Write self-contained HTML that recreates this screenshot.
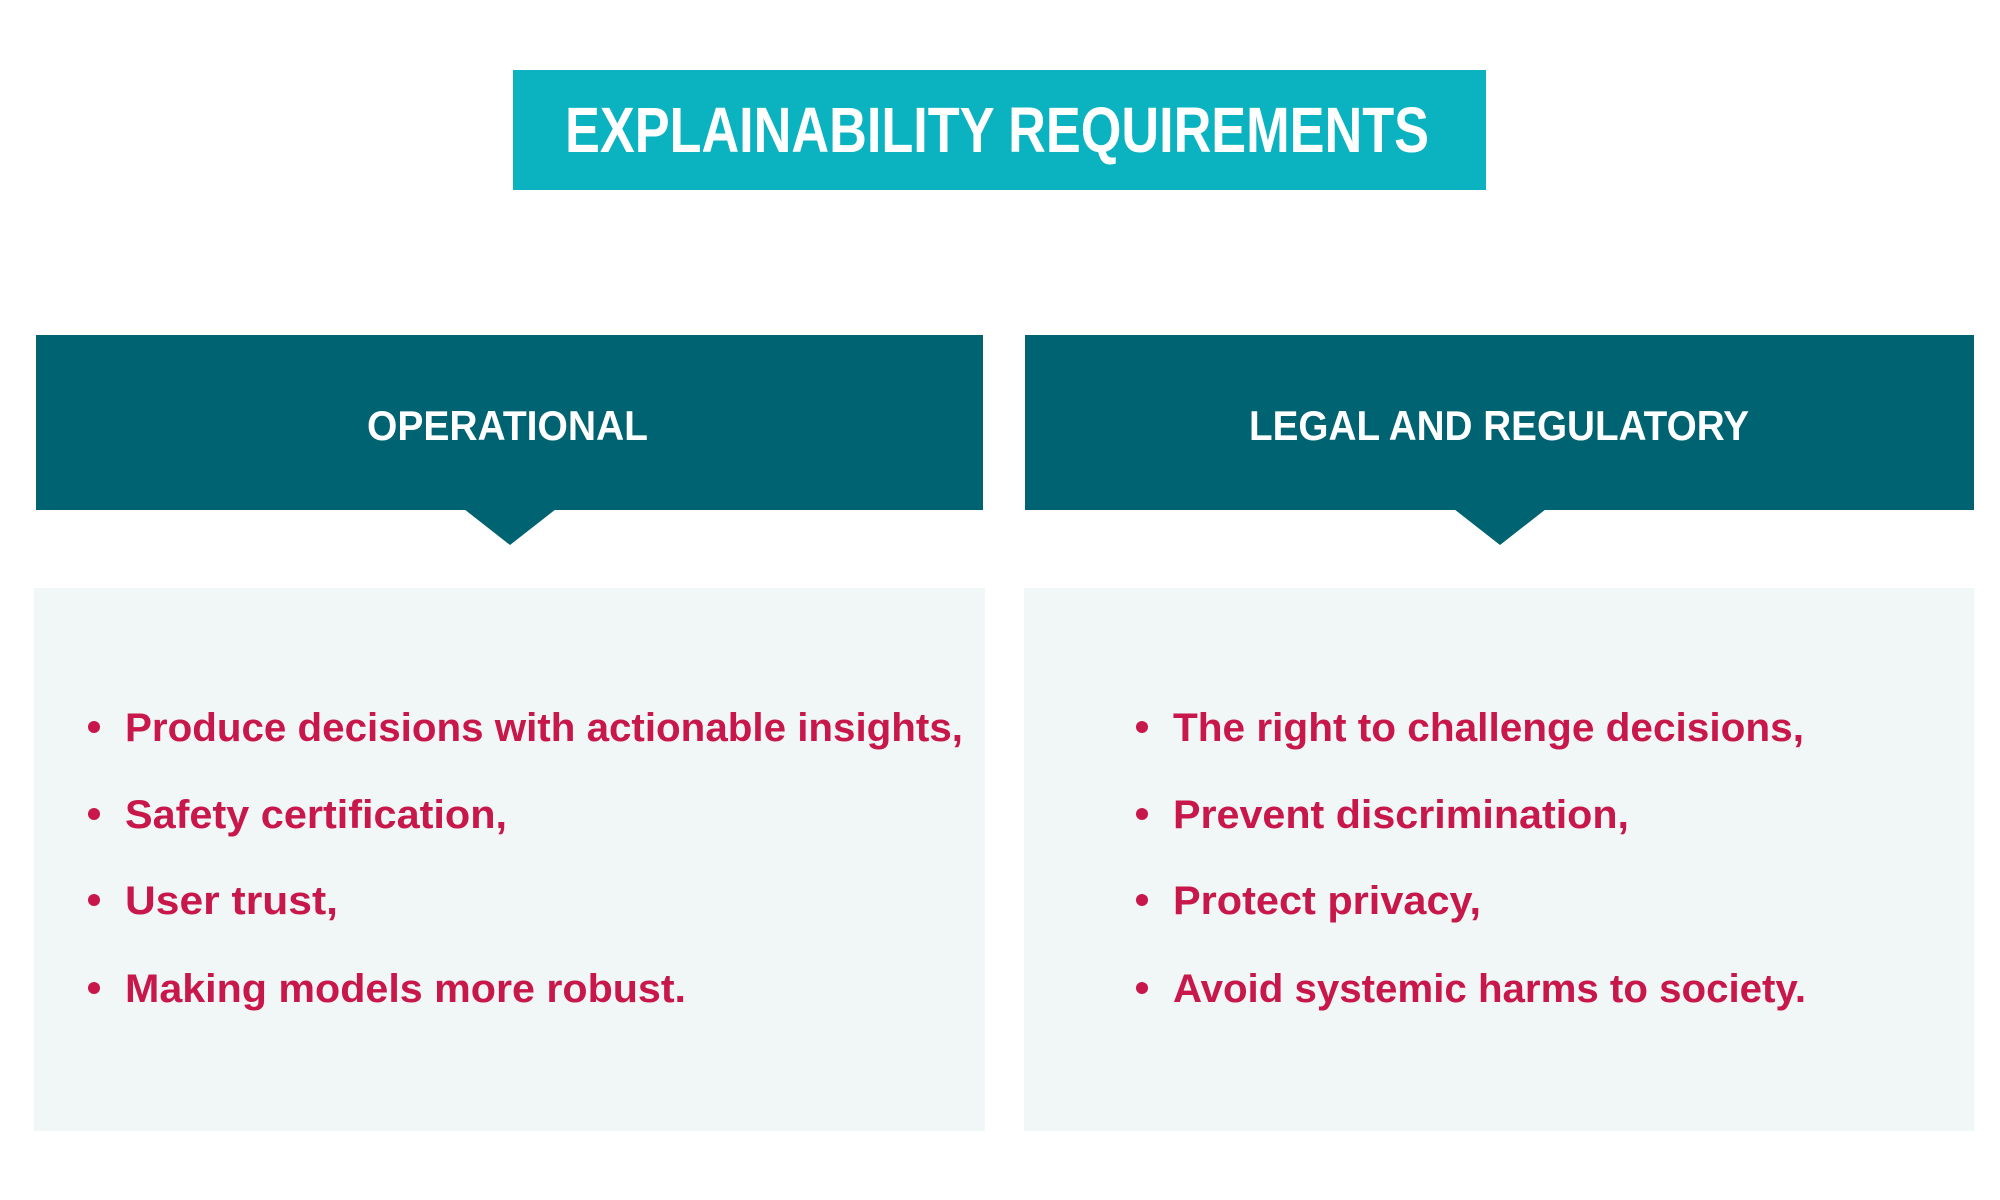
<!DOCTYPE html>
<html><head><meta charset="utf-8"><style>html,body{margin:0;padding:0;background:#fff}svg{display:block}</style></head>
<body>
<svg width="2000" height="1200" viewBox="0 0 2000 1200" xmlns="http://www.w3.org/2000/svg" font-family="Liberation Sans, sans-serif" font-weight="bold">
<rect x="0" y="0" width="2000" height="1200" fill="#fff"/>
<rect x="513" y="70" width="973" height="120" fill="#0bb3c1"/>
<text x="565" y="152" font-size="64" fill="#fff" textLength="864" lengthAdjust="spacingAndGlyphs">EXPLAINABILITY REQUIREMENTS</text>

<rect x="36" y="335" width="947" height="175" fill="#006371"/>
<polygon points="464,509 556,509 510,545" fill="#006371"/>
<text x="367" y="440" font-size="42" fill="#fff" textLength="281" lengthAdjust="spacingAndGlyphs">OPERATIONAL</text>

<rect x="1025" y="335" width="949" height="175" fill="#006371"/>
<polygon points="1454,509 1546,509 1500,545" fill="#006371"/>
<text x="1249" y="440" font-size="42" fill="#fff" textLength="500" lengthAdjust="spacingAndGlyphs">LEGAL AND REGULATORY</text>

<rect x="34" y="588" width="951" height="543" fill="#f1f6f6"/>
<rect x="1024" y="588" width="950" height="543" fill="#f1f6f6"/>

<g fill="#c8174a" font-size="40">
<circle cx="94" cy="727" r="6"/><text x="125" y="741" textLength="838" lengthAdjust="spacingAndGlyphs">Produce decisions with actionable insights,</text>
<circle cx="94" cy="814" r="6"/><text x="125" y="828" textLength="382" lengthAdjust="spacingAndGlyphs">Safety certification,</text>
<circle cx="94" cy="900" r="6"/><text x="125" y="914" textLength="213" lengthAdjust="spacingAndGlyphs">User trust,</text>
<circle cx="94" cy="988" r="6"/><text x="125" y="1002" textLength="561" lengthAdjust="spacingAndGlyphs">Making models more robust.</text>

<circle cx="1142" cy="727" r="6"/><text x="1173" y="741" textLength="631" lengthAdjust="spacingAndGlyphs">The right to challenge decisions,</text>
<circle cx="1142" cy="814" r="6"/><text x="1173" y="828" textLength="456" lengthAdjust="spacingAndGlyphs">Prevent discrimination,</text>
<circle cx="1142" cy="900" r="6"/><text x="1173" y="914" textLength="308" lengthAdjust="spacingAndGlyphs">Protect privacy,</text>
<circle cx="1142" cy="988" r="6"/><text x="1173" y="1002" textLength="633" lengthAdjust="spacingAndGlyphs">Avoid systemic harms to society.</text>
</g>
</svg>
</body></html>
